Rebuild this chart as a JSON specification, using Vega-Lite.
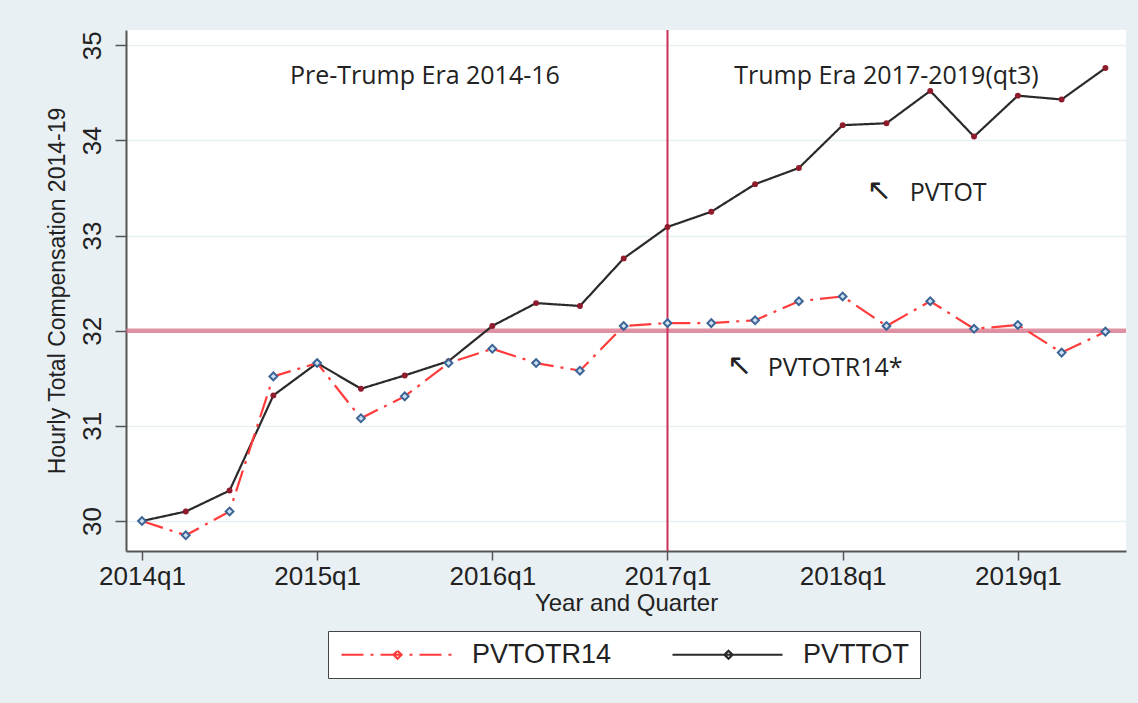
{
  "$schema": "https://vega.github.io/schema/vega-lite/v6.json",
  "width": 1000,
  "height": 521,
  "autosize": {"type": "none"},
  "padding": {"left": 126, "top": 30, "right": 12, "bottom": 152},
  "background": "#e9f0f3",
  "config": {
    "view": {"fill": "white", "stroke": null},
    "font": "Liberation Sans"
  },
  "datasets": {
    "series": [
      {"t": 0, "series": "PVTTOT", "value": 30.0},
      {"t": 1, "series": "PVTTOT", "value": 30.1},
      {"t": 2, "series": "PVTTOT", "value": 30.32},
      {"t": 3, "series": "PVTTOT", "value": 31.32},
      {"t": 4, "series": "PVTTOT", "value": 31.66},
      {"t": 5, "series": "PVTTOT", "value": 31.39},
      {"t": 6, "series": "PVTTOT", "value": 31.53},
      {"t": 7, "series": "PVTTOT", "value": 31.68},
      {"t": 8, "series": "PVTTOT", "value": 32.05},
      {"t": 9, "series": "PVTTOT", "value": 32.29},
      {"t": 10, "series": "PVTTOT", "value": 32.26},
      {"t": 11, "series": "PVTTOT", "value": 32.76},
      {"t": 12, "series": "PVTTOT", "value": 33.09},
      {"t": 13, "series": "PVTTOT", "value": 33.25},
      {"t": 14, "series": "PVTTOT", "value": 33.54},
      {"t": 15, "series": "PVTTOT", "value": 33.71},
      {"t": 16, "series": "PVTTOT", "value": 34.16},
      {"t": 17, "series": "PVTTOT", "value": 34.18},
      {"t": 18, "series": "PVTTOT", "value": 34.52},
      {"t": 19, "series": "PVTTOT", "value": 34.04},
      {"t": 20, "series": "PVTTOT", "value": 34.47},
      {"t": 21, "series": "PVTTOT", "value": 34.43},
      {"t": 22, "series": "PVTTOT", "value": 34.76},
      {"t": 0, "series": "PVTOTR14", "value": 30.0},
      {"t": 1, "series": "PVTOTR14", "value": 29.85},
      {"t": 2, "series": "PVTOTR14", "value": 30.1},
      {"t": 3, "series": "PVTOTR14", "value": 31.52},
      {"t": 4, "series": "PVTOTR14", "value": 31.66},
      {"t": 5, "series": "PVTOTR14", "value": 31.08},
      {"t": 6, "series": "PVTOTR14", "value": 31.31},
      {"t": 7, "series": "PVTOTR14", "value": 31.66},
      {"t": 8, "series": "PVTOTR14", "value": 31.81},
      {"t": 9, "series": "PVTOTR14", "value": 31.66},
      {"t": 10, "series": "PVTOTR14", "value": 31.58},
      {"t": 11, "series": "PVTOTR14", "value": 32.05},
      {"t": 12, "series": "PVTOTR14", "value": 32.08},
      {"t": 13, "series": "PVTOTR14", "value": 32.08},
      {"t": 14, "series": "PVTOTR14", "value": 32.11},
      {"t": 15, "series": "PVTOTR14", "value": 32.31},
      {"t": 16, "series": "PVTOTR14", "value": 32.36},
      {"t": 17, "series": "PVTOTR14", "value": 32.05},
      {"t": 18, "series": "PVTOTR14", "value": 32.31},
      {"t": 19, "series": "PVTOTR14", "value": 32.02},
      {"t": 20, "series": "PVTOTR14", "value": 32.06},
      {"t": 21, "series": "PVTOTR14", "value": 31.77},
      {"t": 22, "series": "PVTOTR14", "value": 31.99}
    ],
    "titles": [
      {"t": 6.46, "value": 34.68, "label": "Pre-Trump Era 2014-16"},
      {"t": 17.0, "value": 34.68, "label": "Trump Era 2017-2019(qt3)"}
    ],
    "arrows": [
      {"t": 16.55, "value": 33.47, "label": "↖"},
      {"t": 13.36, "value": 31.63, "label": "↖"}
    ],
    "notes": [
      {"t": 17.53, "value": 33.45, "label": "PVTOT"},
      {"t": 14.29, "value": 31.61, "label": "PVTOTR14*"}
    ]
  },
  "layer": [
    {
      "data": {"values": [{"value": 32}]},
      "mark": {"type": "rule", "color": "#d6647f", "strokeWidth": 4.5, "opacity": 0.7},
      "encoding": {"y": {"field": "value", "type": "quantitative", "scale": {"domain": [29.685, 35.16], "nice": false, "zero": false}}}
    },
    {
      "data": {"values": [{"t": 12}]},
      "mark": {"type": "rule", "color": "#c9315a", "strokeWidth": 2},
      "encoding": {"x": {"field": "t", "type": "quantitative", "scale": {"domain": [-0.365, 22.47], "nice": false, "zero": false}}}
    },
    {
      "data": {"name": "series"},
      "mark": {"type": "line", "strokeWidth": 2.2},
      "encoding": {
        "x": {
          "field": "t", "type": "quantitative",
          "scale": {"domain": [-0.365, 22.47], "nice": false, "zero": false},
          "axis": {
            "title": "Year and Quarter",
            "values": [0, 4, 8, 12, 16, 20],
            "labelExpr": "(2014 + datum.value / 4) + 'q1'",
            "grid": false,
            "domainColor": "#555555", "domainWidth": 2,
            "tickColor": "#555555", "tickSize": 9, "tickWidth": 1.5,
            "labelFontSize": 26, "labelColor": "#222222", "labelPadding": 3,
            "titleFontSize": 24, "titleColor": "#222222", "titleFontWeight": "normal", "titlePadding": 2
          }
        },
        "y": {
          "field": "value", "type": "quantitative",
          "scale": {"domain": [29.685, 35.16], "nice": false, "zero": false},
          "axis": {
            "title": "Hourly Total Compensation 2014-19",
            "values": [30, 31, 32, 33, 34, 35],
            "format": "d",
            "labelAngle": -90,
            "labelAlign": "center", "labelBaseline": "bottom",
            "gridColor": "#e6eff1", "gridWidth": 1.5,
            "domainColor": "#555555", "domainWidth": 2,
            "tickColor": "#555555", "tickSize": 11, "tickWidth": 1.5,
            "labelFontSize": 26, "labelColor": "#222222", "labelPadding": 10,
            "titleFontSize": 23, "titleColor": "#222222", "titleFontWeight": "normal", "titlePadding": 10
          }
        },
        "color": {
          "field": "series", "type": "nominal",
          "scale": {"domain": ["PVTOTR14", "PVTTOT"], "range": ["#ff3b3b", "#2a2a2a"]},
          "legend": {
            "title": null, "orient": "none", "legendX": 202, "legendY": 601,
            "direction": "horizontal", "fillColor": "white", "strokeColor": "#444444",
            "padding": 10, "columnPadding": 56,
            "symbolType": "M-1,0L10,0M4.6,-0.4L5.0,0L4.6,0.4L4.2,0Z", "symbolSize": 400, "symbolStrokeWidth": 2.2,
            "labelFontSize": 27, "labelColor": "#222222", "labelOffset": 107
          }
        },
        "strokeDash": {
          "field": "series", "type": "nominal",
          "scale": {"domain": ["PVTOTR14", "PVTTOT"], "range": [[22, 7, 3, 7], [1, 0]]},
          "legend": {
            "title": null, "orient": "none", "legendX": 202, "legendY": 601,
            "direction": "horizontal", "fillColor": "white", "strokeColor": "#444444",
            "padding": 10, "columnPadding": 56,
            "symbolType": "M-1,0L10,0M4.6,-0.4L5.0,0L4.6,0.4L4.2,0Z", "symbolSize": 400, "symbolStrokeWidth": 2.2,
            "labelFontSize": 27, "labelColor": "#222222", "labelOffset": 107
          }
        }
      }
    },
    {
      "data": {"name": "series"},
      "transform": [{"filter": "datum.series === 'PVTTOT'"}],
      "mark": {"type": "point", "shape": "circle", "filled": true, "color": "#8e1c2c", "size": 35, "opacity": 1},
      "encoding": {
        "x": {"field": "t", "type": "quantitative"},
        "y": {"field": "value", "type": "quantitative"}
      }
    },
    {
      "data": {"name": "series"},
      "transform": [{"filter": "datum.series === 'PVTOTR14'"}],
      "mark": {"type": "point", "shape": "diamond", "filled": false, "stroke": "#3b6596", "fill": "#cfe0f0", "fillOpacity": 1, "strokeWidth": 2, "size": 60, "opacity": 1},
      "encoding": {
        "x": {"field": "t", "type": "quantitative"},
        "y": {"field": "value", "type": "quantitative"}
      }
    },
    {
      "data": {"name": "titles"},
      "mark": {"type": "text", "font": "Open Sans", "fontSize": 25, "color": "#222222", "baseline": "middle", "align": "center"},
      "encoding": {
        "x": {"field": "t", "type": "quantitative"},
        "y": {"field": "value", "type": "quantitative"},
        "text": {"field": "label"}
      }
    },
    {
      "data": {"name": "arrows"},
      "mark": {"type": "text", "font": "DejaVu Sans", "fontSize": 30, "color": "#222222", "baseline": "middle", "align": "left"},
      "encoding": {
        "x": {"field": "t", "type": "quantitative"},
        "y": {"field": "value", "type": "quantitative"},
        "text": {"field": "label"}
      }
    },
    {
      "data": {"name": "notes"},
      "mark": {"type": "text", "font": "Open Sans", "fontSize": 25, "color": "#222222", "baseline": "middle", "align": "left"},
      "encoding": {
        "x": {"field": "t", "type": "quantitative"},
        "y": {"field": "value", "type": "quantitative"},
        "text": {"field": "label"}
      }
    }
  ]
}
